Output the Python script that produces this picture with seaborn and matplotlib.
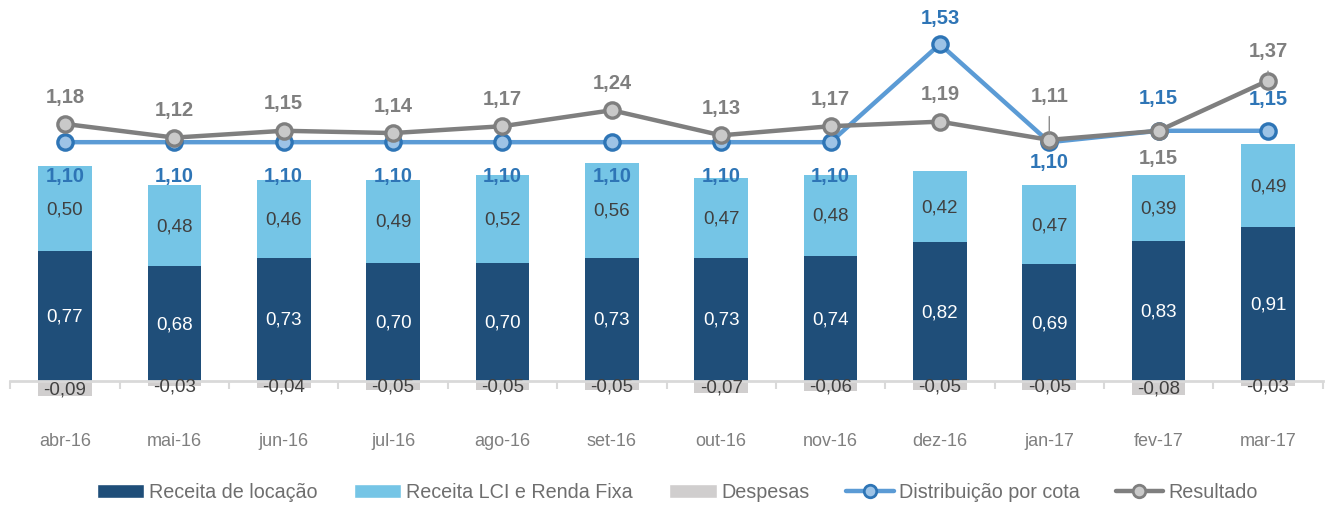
import numpy as np
import pandas as pd
import seaborn as sns
import matplotlib.pyplot as plt
from matplotlib.patches import Patch
from matplotlib.lines import Line2D

sns.set_theme(style="white")
plt.rcParams['font.family'] = ['Liberation Sans', 'DejaVu Sans']

# Dados
meses = ["abr-16", "mai-16", "jun-16", "jul-16", "ago-16", "set-16",
         "out-16", "nov-16", "dez-16", "jan-17", "fev-17", "mar-17"]
receita_locacao = [0.77, 0.68, 0.73, 0.70, 0.70, 0.73, 0.73, 0.74, 0.82, 0.69, 0.83, 0.91]
receita_lci = [0.50, 0.48, 0.46, 0.49, 0.52, 0.56, 0.47, 0.48, 0.42, 0.47, 0.39, 0.49]
despesas = [-0.09, -0.03, -0.04, -0.05, -0.05, -0.05, -0.07, -0.06, -0.05, -0.05, -0.08, -0.03]
distribuicao = [1.10, 1.10, 1.10, 1.10, 1.10, 1.10, 1.10, 1.10, 1.53, 1.10, 1.15, 1.15]
resultado = [1.18, 1.12, 1.15, 1.14, 1.17, 1.24, 1.13, 1.17, 1.19, 1.11, 1.15, 1.37]

df = pd.DataFrame({"mes": meses, "loc": receita_locacao, "lci": receita_lci,
                   "desp": despesas, "dist": distribuicao, "res": resultado})
df["total"] = df["loc"] + df["lci"]

c_loc = "#1f4e79"
c_lci = "#75c5e6"
c_desp = "#d0cece"
c_dist = "#5b9bd5"
c_dist_edge = "#2e75b6"
c_res = "#7f7f7f"

# deslocamento dos rótulos das linhas (pontos)
off_dist = [-24, -24, -24, -24, -24, -24, -24, -24, 19, -14, 24, 23]
off_res = [20, 20, 20, 20, 20, 20, 20, 20, 20, 32, -19, 22]
leader_res = [False] * 9 + [True, False, True]

fig = plt.figure(figsize=(13.25, 5.06), dpi=100)
ax = fig.add_axes([10.3 / 1325, 1 - 425 / 506, 1312.4 / 1325, 420 / 506])

bw = 0.49
sns.barplot(data=df, x="mes", y="total", color=c_lci, saturation=1, width=bw,
            linewidth=0, errorbar=None, ax=ax)
sns.barplot(data=df, x="mes", y="loc", color=c_loc, saturation=1, width=bw,
            linewidth=0, errorbar=None, ax=ax)
sns.barplot(data=df, x="mes", y="desp", color=c_desp, saturation=1, width=bw,
            linewidth=0, errorbar=None, ax=ax)

fmt = lambda v: f"{v:.2f}".replace(".", ",")
for i, r in df.iterrows():
    ax.text(i, r["loc"] / 2, fmt(r["loc"]), ha="center", va="center",
            color="white", fontsize=13.5)
    ax.text(i, r["loc"] + r["lci"] / 2, fmt(r["lci"]), ha="center", va="center",
            color="#404040", fontsize=13.5)
    ax.text(i, min(r["desp"] / 2, -0.03), fmt(r["desp"]), ha="center", va="center",
            color="#404040", fontsize=13.5)

ax.set_xlim(-0.5, 11.5)
ax.set_ylim(-0.254, 2.231)
ax.set_xlabel("")
ax.set_ylabel("")
ax.set_yticks([])
for s in ["top", "left", "right"]:
    ax.spines[s].set_visible(False)
ax.spines["bottom"].set_position(("data", 0))
ax.spines["bottom"].set_color("#d9d9d9")
ax.spines["bottom"].set_linewidth(2)
ax.set_xticks(np.arange(-0.5, 12, 1), minor=True)
ax.tick_params(axis="x", which="minor", length=6, width=1.5, color="#d9d9d9",
               direction="out", bottom=True)
ax.tick_params(axis="x", which="major", length=0, pad=37, labelsize=13,
               labelcolor="#7f7f7f")

# linhas no eixo secundário
ax2 = ax.twinx()
x = np.arange(len(meses))
sns.lineplot(x=x, y=df["dist"], color=c_dist, linewidth=3.2, marker="o",
             markersize=11, markerfacecolor="#9dc3e6", markeredgecolor=c_dist_edge,
             markeredgewidth=2.4, ax=ax2, zorder=3)
sns.lineplot(x=x, y=df["res"], color=c_res, linewidth=3.2, marker="o",
             markersize=11, markerfacecolor="#c9c9c9", markeredgecolor=c_res,
             markeredgewidth=2.4, ax=ax2, zorder=4)
ax2.set_ylim(-0.136, 1.706)
ax2.set_yticks([])
ax2.set_ylabel("")
for s in ax2.spines.values():
    s.set_visible(False)

for i in range(len(meses)):
    ax2.annotate(fmt(distribuicao[i]), (i, distribuicao[i]), xytext=(0, off_dist[i]),
                 textcoords="offset points", ha="center", va="center",
                 fontsize=14.5, fontweight="bold", color=c_dist_edge, zorder=6)
    arrow = dict(arrowstyle="-", color="#8c8c8c", lw=1, shrinkA=6, shrinkB=4) if leader_res[i] else None
    ax2.annotate(fmt(resultado[i]), (i, resultado[i]), xytext=(0, off_res[i]),
                 textcoords="offset points", ha="center", va="center",
                 fontsize=14.5, fontweight="bold", color=c_res, zorder=6,
                 arrowprops=arrow)

handles = [
    Patch(facecolor=c_loc, label="Receita de locação"),
    Patch(facecolor=c_lci, label="Receita LCI e Renda Fixa"),
    Patch(facecolor=c_desp, label="Despesas"),
    Line2D([], [], color=c_dist, lw=3.2, marker="o", markersize=9,
           markerfacecolor="#9dc3e6", markeredgecolor=c_dist_edge, markeredgewidth=2,
           label="Distribuição por cota"),
    Line2D([], [], color=c_res, lw=3.2, marker="o", markersize=9,
           markerfacecolor="#c9c9c9", markeredgecolor=c_res, markeredgewidth=2,
           label="Resultado"),
]
fig.legend(handles=handles, loc="center", bbox_to_anchor=(0.511, 1 - 493 / 506),
           ncol=5, frameon=False, handlelength=2.4, handleheight=0.7,
           handletextpad=0.25, columnspacing=1.85,
           prop={"family": "Liberation Sans", "size": 14.2},
           labelcolor="#6e6e6e")

fig.savefig("out.png", dpi=100)
